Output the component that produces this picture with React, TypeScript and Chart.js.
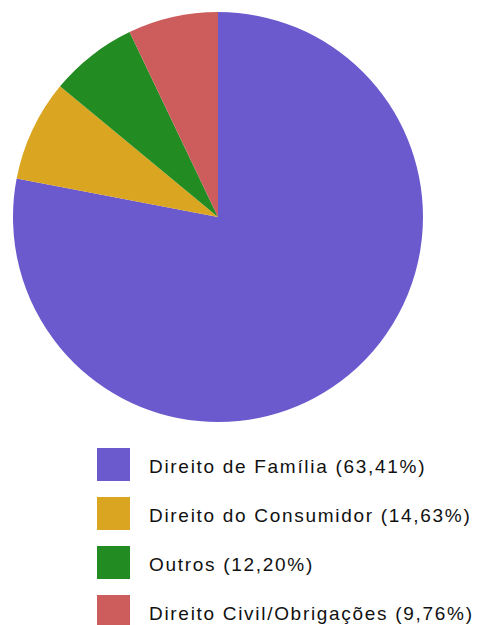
import React, { useEffect, useRef } from "react";
import { Chart, registerables } from "chart.js";

Chart.register(...registerables);

const categories = [
  "Direito de Família",
  "Direito do Consumidor",
  "Outros",
  "Direito Civil/Obrigações",
];
const percentLabels = ["63,41%", "14,63%", "12,20%", "9,76%"];
const sliceValues = [78, 8, 6.9, 7.1];
const colors = ["#6A5ACD", "#DAA520", "#228B22", "#CD5C5C"];

export default function App() {
  const ref = useRef<HTMLCanvasElement | null>(null);

  useEffect(() => {
    if (!ref.current) return;
    const chart = new Chart(ref.current, {
      type: "pie",
      data: {
        labels: categories,
        datasets: [
          {
            data: sliceValues,
            backgroundColor: colors,
            borderWidth: 0,
          },
        ],
      },
      options: {
        responsive: false,
        animation: false,
        layout: { padding: 12 },
        plugins: {
          legend: { display: false },
          tooltip: { enabled: false },
        },
      },
    });
    return () => chart.destroy();
  }, []);

  return (
    <div
      style={{
        position: "absolute",
        left: 0,
        top: 0,
        width: 478,
        height: 625,
        overflow: "hidden",
        background: "#fff",
      }}
    >
      <canvas
        ref={ref}
        width={436}
        height={434}
        style={{ position: "absolute", left: 0, top: 0, width: 436, height: 434 }}
      />
      {categories.map((c, i) => (
        <div key={c}>
          <div
            style={{
              position: "absolute",
              left: 97,
              top: 448 + i * 49,
              width: 33,
              height: 33,
              background: colors[i],
            }}
          />
          <div
            style={{
              position: "absolute",
              left: 149,
              top: 457 + i * 49,
              fontFamily: "'Liberation Sans', Arial, sans-serif",
              fontSize: 19,
              lineHeight: "19px",
              letterSpacing: "1.7px",
              color: "#111",
              whiteSpace: "nowrap",
            }}
          >
            {c} ({percentLabels[i]})
          </div>
        </div>
      ))}
    </div>
  );
}
